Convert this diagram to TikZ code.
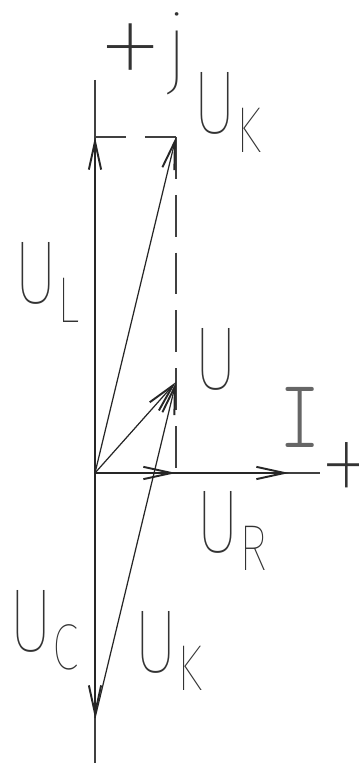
\documentclass[tikz,border=0pt]{standalone}
\usepackage{graphicx}
\usepackage{fontspec}
\usetikzlibrary{arrows.meta}
\IfFontExistsTF{Fira Sans Thin}{\newfontfamily\cadfont{Fira Sans Thin}}{%
  \IfFontExistsTF{Fira Sans ExtraLight}{\newfontfamily\cadfont{Fira Sans ExtraLight}}{%
    \IfFontExistsTF{Fira Sans Light}{\newfontfamily\cadfont{Fira Sans Light}}{%
      \IfFontExistsTF{Lato Hairline}{\newfontfamily\cadfont{Lato Hairline}}{%
        \newfontfamily\cadfont{Fira Sans}}}}}
\IfFontExistsTF{Latin Modern Mono Light}{\newfontfamily\cadserif{Latin Modern Mono Light}}{%
  \let\cadserif\cadfont}
\newcommand{\volt}[1]{\scalebox{0.75}[1]{U\kern0pt\raisebox{-10.8pt}{\fontsize{37}{37}\selectfont #1}}}

\begin{document}
\begin{tikzpicture}[x=0.02cm, y=0.02cm,
    axis/.style={line width=0.8pt, black!75},
    vec/.style={line width=0.7pt, black!85, -{Straight Barb[length=16pt, width=7pt, line width=1.1pt]}},
    dashline/.style={line width=0.8pt, black!75},
    lab/.style={inner sep=0pt, anchor=base west, black!80,
      font=\cadfont\fontsize{51}{51}\selectfont}]
  \useasboundingbox (-95,-290) rectangle (263,473);
  % axes
  \coordinate (O) at (0,0);
  \coordinate (top) at (0,393);
  \coordinate (bot) at (0,-290);
  \coordinate (right) at (225,0);
  \draw[axis] (top) -- (bot);
  \draw[axis] (O) -- (right);
  % vector tips
  \coordinate (ULt) at (0,336);
  \coordinate (UKt) at (81,336);
  \coordinate (Ut) at (81,91);
  \coordinate (URt) at (81,0);
  \coordinate (It) at (194,0);
  \coordinate (UCt) at (0,-245);
  \draw[dashline, dash pattern=on 17.6pt off 10.8pt] (ULt) -- (UKt);
  \draw[dashline, dash pattern=on 23.8pt off 9.1pt] (UKt) -- (URt);
  \draw[vec] (O) -- (ULt);
  \draw[vec] (O) -- (UKt);
  \draw[vec] (O) -- (Ut);
  \draw[vec] (O) -- (URt);
  \draw[vec] (O) -- (It);
  \draw[vec] (O) -- (UCt);
  \draw[vec] (UCt) -- (Ut);
  % labels
  \node[lab, anchor=center, font=\cadfont\fontsize{80}{80}\selectfont] (plus) at (36,414) {+};
  \node[lab] (imag) at (70,395) {j};
  \node[lab, anchor=center, font=\cadfont\fontsize{78}{78}\selectfont] (real) at (252,-4) {\scalebox{0.85}[1]{+}};
  \node[lab] (UKtop) at (98,339) {\volt{K}};
  \node[lab] (UL) at (-81,169) {\volt{L}};
  \node[lab] (U) at (99,83) {\scalebox{0.75}[1]{U}};
  \node[lab, black!60, font=\cadserif\fontsize{56}{56}\selectfont] (I) at (184,25) {\scalebox{0.8}[1]{I}};
  \node[lab] (UR) at (101,-79) {\volt{R}};
  \node[lab] (UC) at (-86,-178) {\volt{C}};
  \node[lab] (UKlow) at (39,-199) {\volt{K}};
\end{tikzpicture}
\end{document}
